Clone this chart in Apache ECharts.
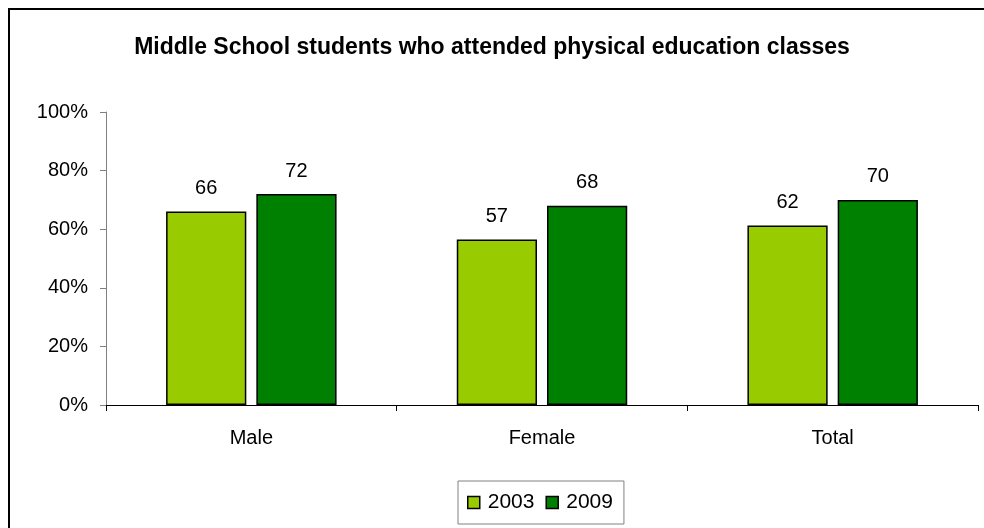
<!DOCTYPE html>
<html>
<head>
<meta charset="utf-8">
<script src="https://cdn.jsdelivr.net/npm/echarts@6/dist/echarts.min.js"></script>
<style>
html,body{margin:0;padding:0;background:#fff;}
#main{width:984px;height:528px;}
</style>
</head>
<body>
<div id="main"></div>
<script>
var titleText = 'Middle School students who attended physical education classes';
var categories = ['Male', 'Female', 'Total'];
var seriesNames = ['2003', '2009'];
var values2003 = [66, 56.5, 61.3];
var values2009 = [72, 68, 70];
var labels2003 = ['66', '57', '62'];
var labels2009 = ['72', '68', '70'];
var yTicks = [0, 20, 40, 60, 80, 100];

var chart = echarts.init(document.getElementById('main'), null, {renderer: 'canvas'});
var font = 'Liberation Sans, Arial, sans-serif';

function mkSeries(name, vals, labels, color) {
  return {
    name: name,
    type: 'bar',
    data: vals,
    barWidth: '27.6%',
    barGap: '12.5%',
    itemStyle: {color: color, borderColor: '#000', borderWidth: 1.5},
    label: {
      show: true, position: 'top', distance: 13,
      fontFamily: font, fontSize: 20, color: '#000',
      formatter: function (p) { return labels[p.dataIndex]; }
    },
    emphasis: {disabled: true}
  };
}

chart.setOption({
  animation: false,
  backgroundColor: '#fff',
  title: {
    text: titleText,
    left: 'center', top: 31,
    textStyle: {fontFamily: font, fontSize: 23, fontWeight: 'bold', color: '#000'}
  },
  legend: {
    data: seriesNames,
    left: 458, top: 481,
    padding: [11, 11, 11, 9],
    itemGap: 11,
    itemWidth: 12, itemHeight: 12,
    icon: 'rect',
    borderColor: '#808080', borderWidth: 1,
    itemStyle: {borderColor: '#000', borderWidth: 1.5},
    textStyle: {fontFamily: font, fontSize: 21, color: '#000', padding: [0, 0, 0, 3]}
  },
  grid: {left: 106, right: 6, top: 112, bottom: 123, containLabel: false},
  xAxis: {
    type: 'category',
    data: categories,
    axisLine: {lineStyle: {color: '#000', width: 1}},
    axisTick: {show: true, length: 6, inside: false, lineStyle: {color: '#000'}},
    axisLabel: {fontFamily: font, fontSize: 20, color: '#000', margin: 23}
  },
  yAxis: {
    type: 'value',
    min: yTicks[0], max: yTicks[yTicks.length - 1], interval: 20,
    splitLine: {show: false},
    axisLine: {show: true, lineStyle: {color: '#808080', width: 1}},
    axisTick: {show: true, length: 6, lineStyle: {color: '#808080'}},
    axisLabel: {fontFamily: font, fontSize: 20, color: '#000', margin: 18,
      formatter: function (v) { return v + '%'; }}
  },
  graphic: [{
    type: 'rect',
    shape: {x: 9, y: 9, width: 1000, height: 540},
    style: {fill: null, stroke: '#000', lineWidth: 2},
    silent: true
  }],
  series: [
    mkSeries(seriesNames[0], values2003, labels2003, '#99CC00'),
    mkSeries(seriesNames[1], values2009, labels2009, '#008000')
  ]
});
</script>
</body>
</html>
